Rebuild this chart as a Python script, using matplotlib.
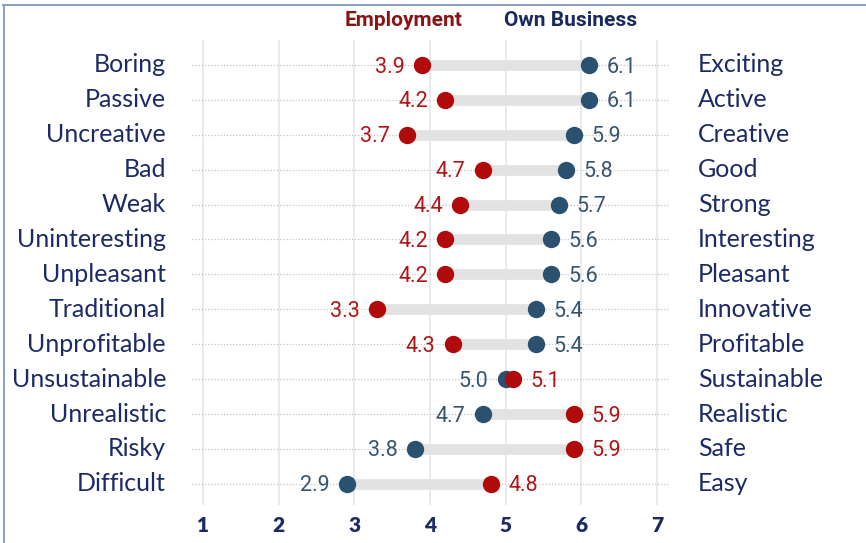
import matplotlib
matplotlib.use("Agg")
import matplotlib.pyplot as plt
from matplotlib.lines import Line2D
import numpy as np

# Semantic differential pairs: negative pole (left) and positive pole (right)
left_labels = ["Boring", "Passive", "Uncreative", "Bad", "Weak", "Uninteresting",
               "Unpleasant", "Traditional", "Unprofitable", "Unsustainable",
               "Unrealistic", "Risky", "Difficult"]
right_labels = ["Exciting", "Active", "Creative", "Good", "Strong", "Interesting",
                "Pleasant", "Innovative", "Profitable", "Sustainable",
                "Realistic", "Safe", "Easy"]
employment = [3.9, 4.2, 3.7, 4.7, 4.4, 4.2, 4.2, 3.3, 4.3, 5.1, 5.9, 5.9, 4.8]
own_business = [6.1, 6.1, 5.9, 5.8, 5.7, 5.6, 5.6, 5.4, 5.4, 5.0, 4.7, 3.8, 2.9]
scale_ticks = [1, 2, 3, 4, 5, 6, 7]
series_names = ["Employment", "Own Business"]

RED = "#b00a0a"
RED_TXT = "#b01515"
BLUE = "#2b5170"
BLUE_TXT = "#35566f"
NAVY = "#1c2b66"
HEAD_RED = "#8a1414"
HEAD_NAVY = "#1b2a5c"

W, H = 866, 543
fig = plt.figure(figsize=(W / 100, H / 100), dpi=100)

# axes placed in pixel terms
ax_l, ax_r, ax_t, ax_b = 188, 688, 40, 505
ax = fig.add_axes([ax_l / W, 1 - ax_b / H, (ax_r - ax_l) / W, (ax_b - ax_t) / H])
px_per_unit = (657 - 203) / 6
ax.set_xlim(1 - (203 - ax_l) / px_per_unit, 7 + (ax_r - 657) / px_per_unit)
row_h = 34.9
n = len(left_labels)
ax.set_ylim((ax_b - 65) / row_h, -(65 - ax_t) / row_h)

for s in ax.spines.values():
    s.set_visible(False)
ax.set_xticks(scale_ticks)
ax.set_xticklabels([str(t) for t in scale_ticks])
ax.set_yticks([])
ax.tick_params(axis="x", length=0, pad=8, labelsize=15, labelcolor=NAVY)
for lab in ax.get_xticklabels():
    lab.set_fontfamily("Lato")
    lab.set_fontweight("heavy")
ax.grid(axis="x", color="#e6e6e6", linewidth=1.2)
ax.set_axisbelow(True)

y = np.arange(n)
x0 = 1 - 11 / px_per_unit
x1 = 7 + 13 / px_per_unit
ax.hlines(y, x0, x1, colors="#c4c4c4", linestyles=(0, (1, 1.5)), linewidth=0.9, zorder=1)

emp = np.array(employment)
own = np.array(own_business)
ax.hlines(y, np.minimum(emp, own), np.maximum(emp, own), colors="#e2e2e2",
          linewidth=7.7, zorder=2)
ax.plot(emp, y, "o", color=RED, markersize=12.5, zorder=4, markeredgewidth=0)
ax.plot(own, y, "o", color=BLUE, markersize=12.5, zorder=3, markeredgewidth=0)

off = 12.6
for i in range(n):
    for val, col in ((emp[i], RED_TXT), (own[i], BLUE_TXT)):
        other = own[i] if col == RED_TXT else emp[i]
        if val < other:
            ax.annotate(f"{val:.1f}", (val, i), xytext=(-off, -1.5), textcoords="offset points",
                        ha="right", va="center", color=col, fontsize=15.5,
                        fontfamily="Roboto")
        else:
            ax.annotate(f"{val:.1f}", (val, i), xytext=(off, -1.5), textcoords="offset points",
                        ha="left", va="center", color=col, fontsize=15.5,
                        fontfamily="Roboto")

for i in range(n):
    yp = 1 - (65 + i * row_h) / H
    fig.text(166 / W, yp, left_labels[i], ha="right", va="center", color=NAVY,
             fontsize=18, fontfamily="Lato")
    fig.text(698 / W, yp, right_labels[i], ha="left", va="center", color=NAVY,
             fontsize=18, fontfamily="Lato")

fig.text(404 / W, 1 - 20 / H, series_names[0], ha="center", va="center",
         color=HEAD_RED, fontsize=15, fontweight="bold", fontfamily="Roboto")
fig.text(571 / W, 1 - 20 / H, series_names[1], ha="center", va="center",
         color=HEAD_NAVY, fontsize=15, fontweight="bold", fontfamily="Roboto")

# frame lines along the top and left edges
fig.add_artist(Line2D([3 / W, 1], [1 - 4.5 / H, 1 - 4.5 / H], transform=fig.transFigure,
                      color="#8aa0bd", linewidth=1.4))
fig.add_artist(Line2D([4 / W, 4 / W], [0, 1 - 4.5 / H], transform=fig.transFigure,
                      color="#8aa0bd", linewidth=1.4))

fig.savefig("out.png", dpi=100, facecolor="white")
